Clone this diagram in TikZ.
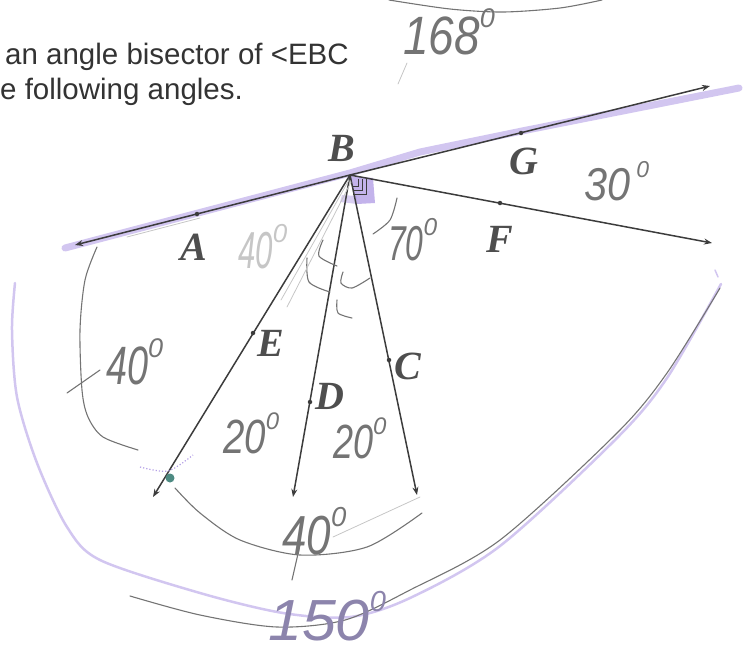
\documentclass[tikz,border=0pt]{standalone}
\usepackage{fontspec}
\usepackage{graphicx}
\setmainfont{Liberation Sans}
\newfontfamily\labelfont{Liberation Serif}
\usetikzlibrary{arrows.meta}
\definecolor{ink}{HTML}{3C3C3C}
\definecolor{txt}{HTML}{333333}
\definecolor{lblgray}{HTML}{4E4E4E}
\definecolor{pencil}{HTML}{747474}
\definecolor{faintpencil}{HTML}{C6C6C6}
\definecolor{lilac}{HTML}{B4A0E6}
\definecolor{violetgray}{HTML}{8C84AC}
\definecolor{tealdot}{HTML}{4D8A82}
\newcommand\dgr{\raisebox{.5em}{\scalebox{.5}{0}}}

\begin{document}
\begin{tikzpicture}[
    x=1pt,y=-1pt,
    ray/.style={draw=ink,line width=1.5pt,-{Stealth[length=8pt,width=6pt]}},
    pt/.style={circle,fill=ink,inner sep=0pt,minimum size=4.5pt},
    lbl/.style={text=lblgray,font=\labelfont\bfseries\itshape\fontsize{40}{40}\selectfont},
    hand/.style={text=pencil,inner sep=0pt,anchor=base west,font=\itshape\fontsize{#1}{#1}\selectfont},
    stroke/.style={draw=pencil,line width=1.1pt,line cap=round},
    faint/.style={draw=faintpencil,line width=.8pt,line cap=round},
    hilite/.style={draw=lilac,line width=#1,opacity=.6,line cap=round,line join=round}
]
\useasboundingbox (0,0) rectangle (744,656);

\node[anchor=base west,inner sep=0pt,text=txt,font=\fontsize{29.5}{35}\selectfont] (line1) at (5,64) {an angle bisector of <EBC};
\node[anchor=base west,inner sep=0pt,text=txt,font=\fontsize{29.5}{35}\selectfont] (line2) at (0,99) {e following angles.};

\draw[hilite=7pt] (65,248) -- (350,173) -- (420,152) -- (522,131) -- (739,88);
\draw[hilite=2.5pt] plot[smooth] coordinates {(15,283) (12,330) (17,397) (37,463) (67,527) (100,560) (200,593) (283,613) (350,617) (410,598) (500,546) (617,438) (667,378) (721,284)};
\draw[hilite=1.5pt] (715,270) -- (718,277);
\fill[lilac,opacity=.8] (350,176) -- (373,178) -- (375,203) -- (357,204) -- cycle;
\fill[lilac,opacity=.5] (342,195) -- (357,196) -- (357,204) -- (340,202) -- cycle;
\foreach \k in {0,1,2}
    \draw[ink,line width=.7pt] (358+4*\k,179) -- (358+4*\k,186+4*\k) -- (353,186+4*\k);

\coordinate (B) at (350,175);
\coordinate (tipA) at (75,245);
\coordinate (tipG) at (710,86);
\coordinate (tipF) at (712,243);
\coordinate (tipE) at (153,497);
\coordinate (tipD) at (293,497);
\coordinate (tipC) at (417,495);
\node[pt] (A) at (197,214) {};
\node[pt] (G) at (521,133) {};
\node[pt] (F) at (500,203) {};
\node[pt] (E) at (253,333) {};
\node[pt] (D) at (310,402) {};
\node[pt] (C) at (389,360) {};
\draw[ray] (B) -- (tipA);
\draw[ray] (B) -- (tipG);
\draw[ray] (B) -- (tipF);
\draw[ray] (B) -- (tipE);
\draw[ray] (B) -- (tipD);
\draw[ray] (B) -- (tipC);

\node[lbl] (labB) at (342,148) {B};
\node[lbl] (labG) at (524,161) {G};
\node[lbl] (labF) at (500,239) {F};
\node[lbl] (labA) at (194,247) {A};
\node[lbl] (labE) at (271,343) {E};
\node[lbl] (labD) at (330,396) {D};
\node[lbl] (labC) at (408,366) {C};

\draw[stroke] plot[smooth] coordinates {(389,0) (450,9) (503,12) (560,8) (602,0)};
\draw[faint] (407,63) -- (398,84);
\draw[stroke] plot[smooth] coordinates {(97,247) (85,280) (80,330) (82,390) (88,417) (103,437) (138,450)};
\draw[stroke] (67,393) -- (100,370);
\draw[stroke] plot[smooth] coordinates {(175,488) (200,513) (240,540) (300,555) (367,547) (422,513)};
\draw[stroke] (300,545) -- (292,580);
\draw[faint] (333,537) -- (420,497);
\draw[stroke] plot[smooth] coordinates {(130,596) (200,615) (277,627) (345,620) (410,590) (500,540) (617,433) (667,373) (720,288)};
\draw[stroke] plot[smooth] coordinates {(323,240) (319,256) (337,266)};
\draw[stroke] plot[smooth] coordinates {(307,258) (309,282) (330,292)};
\draw[stroke] plot[smooth] coordinates {(343,272) (341,283) (352,288) (370,278)};
\draw[stroke] plot[smooth] coordinates {(337,300) (338,313) (352,318)};
\draw[stroke] plot[smooth] coordinates {(397,198) (390,220) (373,234)};
\draw[faint] (351,182) -- (287,307);
\draw[faint] (349,180) -- (281,300);
\draw[faint] (127,237) -- (200,218);
\draw[lilac,dotted,line width=1.2pt] plot[smooth] coordinates {(140,467) (168,471) (193,455)};
\fill[tealdot] (170,478) circle[radius=4.5];

\node[hand=54] (h168) at (403,54) {\scalebox{.85}[1]{168}\dgr};
\node[hand=46] (h30) at (584,200) {\scalebox{.9}[1]{30}\hspace{6pt}\dgr};
\node[hand=49] (h70) at (388,260) {\scalebox{.65}[1]{70}\dgr};
\node[hand=52,text=faintpencil] (h40a) at (238,268) {\scalebox{.6}[1]{40}\dgr};
\node[hand=54] (h40b) at (106,384) {\scalebox{.7}[1]{40}\dgr};
\node[hand=48] (h20a) at (223,453) {\scalebox{.8}[1]{20}\dgr};
\node[hand=48] (h20b) at (333,458) {\scalebox{.75}[1]{20}\dgr};
\node[hand=55] (h40c) at (282,554) {\scalebox{.8}[1]{40}\dgr};
\node[hand=58,text=violetgray] (h150) at (268,640) {\scalebox{1.05}[1]{150}\dgr};
\end{tikzpicture}
\end{document}
